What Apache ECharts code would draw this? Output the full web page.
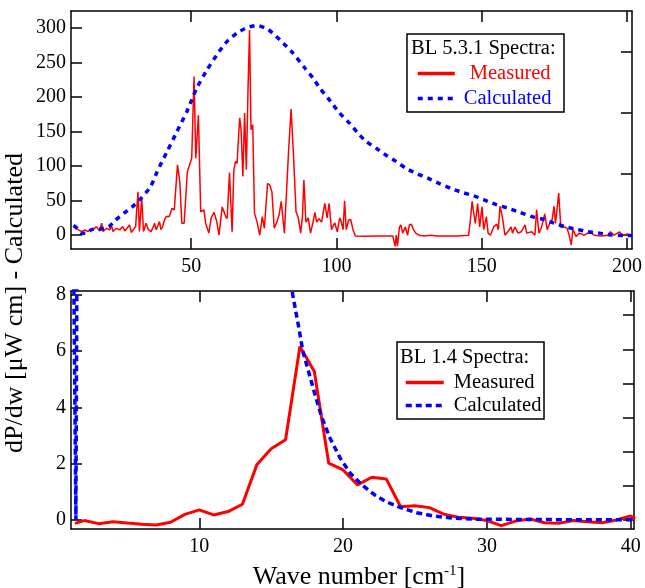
<!DOCTYPE html>
<html>
<head>
<meta charset="utf-8">
<script src="https://cdn.jsdelivr.net/npm/echarts@6/dist/echarts.min.js"></script>
<style>
html,body{margin:0;padding:0;background:#fff;}
#chart{width:645px;height:588px;}
</style>
</head>
<body>
<div id="chart"></div>
<script>
// ---------- data ----------
const topXTicks = [50, 100, 150, 200];
const topYTicks = [0, 50, 100, 150, 200, 250, 300];
const topRightTicks = [0, 88.7, 177.4, 266.1];
const botXTicks = [10, 20, 30, 40];
const botYTicks = [0, 2, 4, 6, 8];
const botRightTicks = [0, 1.213, 2.427, 3.64, 4.853, 6.067, 7.28];

const topTitle = 'BL 5.3.1 Spectra:';
const botTitle = 'BL 1.4 Spectra:';
const seriesLabels = ['Measured', 'Calculated'];

const topMeasured = [
  [9.5,12],[10.0,12.5],[11.2,7.7],[12.3,5.3],[13.4,7.7],[14.6,5.3],[15.5,9],[16.3,7.7],[17.4,12.5],[18.5,6],
  [19.2,17.4],[19.7,5.3],[20.9,10],[22.0,7.7],[22.6,14],[23.1,5.3],[24.3,10],[25.4,7.7],[26.5,12.5],[27.2,6],
  [27.7,7.7],[28.8,15],[29.4,4],[29.9,5.3],[30.9,12.5],[31.7,63],[32.2,5.3],[33.0,54],[33.6,5.3],[34.5,17.4],
  [35.3,8],[36.2,5.3],[37.0,12],[37.4,17.4],[38.0,8],[38.5,5.3],[39.1,19.7],[39.6,8],[40.2,12.5],[40.8,22],
  [41.4,27],[42.5,27],[43.4,39],[44.2,36.7],[45.3,102],[46.1,77.7],[46.8,17.4],[47.6,17.4],[48.7,92],[49.3,90],
  [50.2,111.6],[51.0,230],[51.6,111.6],[52.5,174],[53.3,34],[54.4,36.7],[55.0,17.4],
  [55.6,19],[56.1,3],[56.9,25],[57.9,33],[58.8,20],[59.6,0],[60.7,41],[61.9,27],[62.4,24],[63.2,91],[64.1,5],
  [64.7,95],[65.3,107],[65.8,104],[66.7,170],[67.2,153],[67.8,85],[68.4,177],[69.0,95],[69.6,215],[70.1,297.5],
  [70.6,153],[71.2,160],[71.8,32],[72.7,19],[73.6,0],[74.5,27],[75.2,10],[76.3,75],[77.0,73],[77.8,63],[78.6,10],
  [79.5,19],[80.3,30],[81.0,49],[82.1,3],[83.5,119],[84.4,183],[85.2,119],[86.1,34],[86.9,25],[87.7,3],[88.3,27],
  [88.8,80],[89.5,19],[90.3,25],[91.1,3],[92.0,20],[92.6,33],[93.2,19],[94.0,24],[94.9,19],[96.0,46],[96.8,25],
  [97.5,46],[98.3,8],[99.4,18],[100.3,5],[101.1,25],[101.5,22],[102.3,8],[102.8,50],[103.4,8],[104.2,22],[104.9,23],
  [105.7,8],[106.5,-1],[110,-1.5],[114,-1],[119.4,-1],[119.7,0],[120.2,-16],[120.6,0],[121.0,-16],[121.7,12],
  [122.2,15],[122.8,3],[123.7,12],[124.5,0],[125.1,15],[125.8,16],[126.5,8],[127.3,3],[128.5,0],[130.2,-1],
  [132.5,0],[134.7,-1],[138.1,-1],[141.5,-1],[145.5,0],[146.1,22],[146.7,49],[147.2,34],[147.8,17],[148.6,46],
  [149.3,12],[150.1,41],[150.7,8],[151.6,27],[152.2,3],[153.0,0],[154.1,12],[155.2,16],[155.7,8],[156.3,42],
  [157.1,27],[158.0,0],[159.0,5],[160.1,12],[160.6,3],[161.4,12],[162.5,3],[163.6,5],[164.9,15],[165.5,3],
  [167.2,5],[168.3,0],[168.9,37],[169.7,3],[170.6,12],[171.7,31],[172.5,8],[173.4,17],[174.2,22],[174.9,42],
  [175.4,17],[176.5,61],[177.2,12],[178.5,12],[179.4,10],[180.2,-2],[180.8,-14],[181.4,8],[182.5,-2],[183.6,3],
  [185.3,0],[186.5,3],[187.7,3],[188.8,0],[191.1,-1],[193.4,0],[194.3,5],[195.6,0],[197.4,5],[198.5,0],[200.5,2]
];

const topCalculated = [
  [9.5,14],[10.4,11.6],[12.1,3],[13.8,3],[16.1,8.7],[18.3,8.7],[21.7,12.5],[24,22],[26.9,32],[29.7,41],
  [32.6,52.6],[36,70],[38.3,92],[40,107],[41.7,121],[45.1,150],[48.5,179],[50.2,196],[51.9,213],[55.5,240],
  [59.6,266],[62.4,281],[65.8,293],[69.2,301],[72.7,304],[76.6,298],[81.8,278],[84.6,266],[89.2,242],[92,227.5],
  [94.3,213],[97.1,198.6],[101.1,177],[104.6,162],[107.4,148],[110.2,136],[113.7,126],[117.1,116],[120.5,107],
  [123.9,97],[127.3,90],[131.3,83],[135.3,75],[139.3,68],[143.3,62],[147.3,57],[151,51],[155.2,44],[159.2,39],
  [163.2,33],[167.2,27],[171.2,23],[174.6,18],[178.5,12.5],[182.5,8.7],[186.5,5],[190.5,3],[194.5,0.4],[199,-0.5],
  [201.7,-0.5]
];

const botMeasured = [
  [1.35,-0.12],[2,-0.02],[3,-0.13],[4,-0.06],[5,-0.11],[6,-0.15],[7,-0.18],[8,-0.08],[9,0.2],[10,0.36],
  [11,0.18],[12,0.3],[13,0.56],[14,1.96],[15,2.53],[16,2.85],[17,6.17],[18,5.28],[19,2.02],[20,1.78],
  [21,1.25],[22,1.52],[23,1.46],[24,0.47],[25,0.51],[26,0.44],[27,0.21],[28,0.1],[29,0.06],[30,-0.02],
  [31,-0.2],[32,-0.04],[33,0.04],[34,-0.1],[35,-0.12],[36,-0.02],[37,-0.06],[38,-0.1],[39,0],[40,0.14],[40.3,0.04]
];

const botCalculated = [
  [1.25,10],[1.42,0],[1.5,10],[3,40],[6,60],[10,50],[14,22],[15.5,12],[16.5,8],[16.95,6.76],[17.2,6.0],
  [17.6,5.28],[18.05,4.45],[18.5,3.68],[19.1,2.9],[19.8,2.2],[20.5,1.66],[21.3,1.25],[22.2,0.89],[23.0,0.65],
  [24,0.44],[25.1,0.26],[26.3,0.14],[27.4,0.08],[29,0.03],[32,0.02],[36,0.01],[40.3,0.01]
];

// ---------- chart ----------
const FONT = 'Liberation Serif';
const RED = '#ff0000', BLUE = '#0000ff';

function xAxisDef(grid, min, max, ticks, pos, labels) {
  return {
    type: 'value', gridIndex: grid, min: min, max: max, position: pos,
    axisLine: { show: true, onZero: false, lineStyle: { color: '#000', width: 1.5 } },
    axisTick: { show: true, inside: true, length: 11, customValues: ticks, lineStyle: { color: '#000', width: 1.5 } },
    axisLabel: { show: labels, customValues: ticks, margin: 8, color: '#000', fontFamily: FONT, fontSize: 20 },
    splitLine: { show: false }
  };
}
function yAxisDef(grid, min, max, ticks, pos, labels) {
  return {
    type: 'value', gridIndex: grid, min: min, max: max, position: pos,
    axisLine: { show: true, onZero: false, lineStyle: { color: '#000', width: 1.5 } },
    axisTick: { show: true, inside: true, length: 11, customValues: ticks, lineStyle: { color: '#000', width: 1.5 } },
    axisLabel: { show: labels, customValues: ticks, margin: 5, color: '#000', fontFamily: FONT, fontSize: 20 },
    splitLine: { show: false }
  };
}

const chart = echarts.init(document.getElementById('chart'), null, { renderer: 'canvas' });
const N = {
  tm: seriesLabels[0] + ' (top)', tc: seriesLabels[1] + ' (top)',
  bm: seriesLabels[0] + ' (bottom)', bc: seriesLabels[1] + ' (bottom)'
};
const option = {
  backgroundColor: '#fff',
  animation: false,
  grid: [
    { left: 71, top: 11, width: 563, height: 238 },
    { left: 71, top: 291, width: 563, height: 238 }
  ],
  xAxis: [
    xAxisDef(0, 8.66, 201.7, topXTicks, 'bottom', true),
    xAxisDef(0, 8.66, 201.7, topXTicks, 'top', false),
    xAxisDef(1, 1.08, 40.23, botXTicks, 'bottom', true),
    xAxisDef(1, 1.08, 40.23, botXTicks, 'top', false)
  ],
  yAxis: [
    yAxisDef(0, -20, 325, topYTicks, 'left', true),
    yAxisDef(0, -20, 325, topRightTicks, 'right', false),
    yAxisDef(1, -0.32, 8.142, botYTicks, 'left', true),
    yAxisDef(1, -0.32, 8.142, botRightTicks, 'right', false)
  ],
  legend: [
    {
      orient: 'vertical', left: 416, top: 63, padding: 0, itemGap: 4,
      itemWidth: 37, itemHeight: 14,
      itemStyle: { opacity: 0 },
      lineStyle: { width: 3.5 },
      formatter: n => n.replace(/ \(.*\)$/, ''),
      textStyle: { fontFamily: FONT, fontSize: 20.5 },
      data: [
        { name: N.tm, textStyle: { color: RED, padding: [0, 0, 0, 10] } },
        { name: N.tc, textStyle: { color: BLUE, padding: [0, 0, 0, 4] } }
      ]
    },
    {
      orient: 'vertical', left: 404, top: 372, padding: 0, itemGap: 2,
      itemWidth: 38, itemHeight: 14,
      itemStyle: { opacity: 0 },
      lineStyle: { width: 3.5 },
      formatter: n => n.replace(/ \(.*\)$/, ''),
      textStyle: { fontFamily: FONT, fontSize: 20.5, color: '#000', padding: [0, 0, 0, 5] },
      data: [N.bm, N.bc]
    }
  ],
  graphic: [
    { type: 'rect', z: 3, shape: { x: 407, y: 34, width: 157, height: 78 },
      style: { fill: '#fff', stroke: '#000', lineWidth: 1.5 } },
    { type: 'text', z: 5, x: 411, y: 49,
      style: { text: topTitle, fontFamily: FONT, fontSize: 20.5, fill: '#000', verticalAlign: 'middle' } },
    { type: 'rect', z: 3, shape: { x: 397, y: 342, width: 147, height: 77 },
      style: { fill: '#fff', stroke: '#000', lineWidth: 1.5 } },
    { type: 'text', z: 5, x: 400, y: 358,
      style: { text: botTitle, fontFamily: FONT, fontSize: 20.5, fill: '#000', verticalAlign: 'middle' } },
    { type: 'text', z: 5, x: 359, y: 577,
      style: { text: '{a|Wave number [cm}{s|-1}{a|]}', align: 'center', verticalAlign: 'middle',
        rich: { a: { fontFamily: FONT, fontSize: 26, fill: '#000' },
                s: { fontFamily: FONT, fontSize: 15, fill: '#000', verticalAlign: 'top', padding: [0, 0, 10, 0] } } } },
    { type: 'text', z: 5, x: 15, y: 303, rotation: Math.PI / 2,
      style: { text: 'dP/dw [μW cm] - Calculated', fontFamily: FONT, fontSize: 26, fill: '#000',
        align: 'center', verticalAlign: 'middle' } }
  ],
  series: [
    { name: N.tm, type: 'line', xAxisIndex: 0, yAxisIndex: 0, data: topMeasured, symbol: 'none', showSymbol: false,
      lineStyle: { color: RED, width: 1.5 }, itemStyle: { color: RED }, z: 2 },
    { name: N.tc, type: 'line', xAxisIndex: 0, yAxisIndex: 0, data: topCalculated, symbol: 'none', showSymbol: false,
      smooth: 0.2, lineStyle: { color: BLUE, width: 3.5, type: [5, 5] }, itemStyle: { color: BLUE }, z: 3 },
    { name: N.bm, type: 'line', xAxisIndex: 2, yAxisIndex: 2, data: botMeasured, symbol: 'none', showSymbol: false,
      lineStyle: { color: RED, width: 3 }, itemStyle: { color: RED }, z: 2 },
    { name: N.bc, type: 'line', xAxisIndex: 2, yAxisIndex: 2, data: botCalculated, symbol: 'none', showSymbol: false,
      lineStyle: { color: BLUE, width: 3.5, type: [6, 4] }, itemStyle: { color: BLUE }, z: 3 }
  ]
};
chart.setOption(option);
</script>
</body>
</html>
